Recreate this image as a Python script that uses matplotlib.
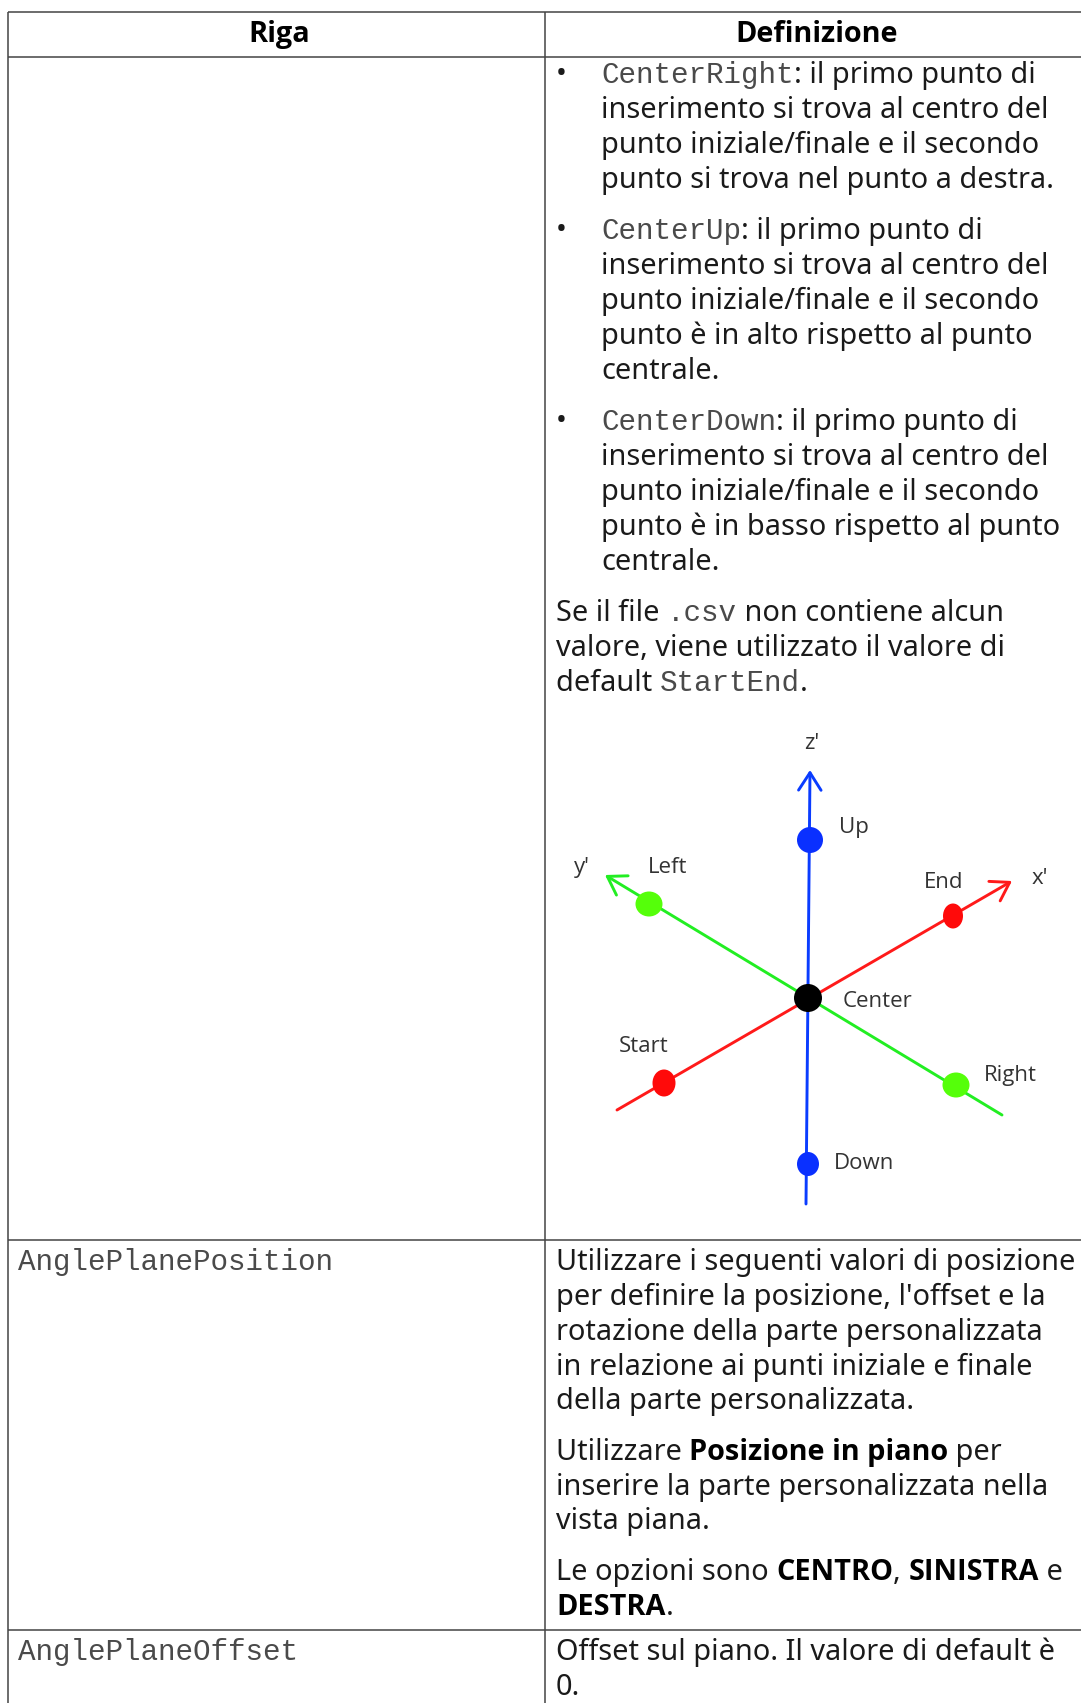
import matplotlib
matplotlib.use("Agg")
import matplotlib.pyplot as plt
from matplotlib.patches import Ellipse
from matplotlib import font_manager as fm

W, H = 1081, 1703
BODY_PT = 20.8
MONO_PT = 21.1
INK = "#1a1a1a"
MONO_INK = "#4a4a4a"

header_labels = ["Riga", "Definizione"]
left_labels = [("AnglePlanePosition", 1270), ("AnglePlaneOffset", 1660)]
bullet_rows = [82, 238, 429]
body_lines = [
    (83, 601, [("CenterRight", "m"), (": il primo punto di", "b")]),
    (118, 601, [("inserimento si trova al centro del", "b")]),
    (153, 601, [("punto iniziale/finale e il secondo", "b")]),
    (188, 601, [("punto si trova nel punto a destra.", "b")]),
    (239, 601, [("CenterUp", "m"), (": il primo punto di", "b")]),
    (274, 601, [("inserimento si trova al centro del", "b")]),
    (309, 601, [("punto iniziale/finale e il secondo", "b")]),
    (344, 601, [("punto è in alto rispetto al punto", "b")]),
    (379, 601, [("centrale.", "b")]),
    (430, 601, [("CenterDown", "m"), (": il primo punto di", "b")]),
    (465, 601, [("inserimento si trova al centro del", "b")]),
    (500, 601, [("punto iniziale/finale e il secondo", "b")]),
    (535, 601, [("punto è in basso rispetto al punto", "b")]),
    (570, 601, [("centrale.", "b")]),
    (621, 556, [("Se il file ", "b"), (".csv", "m"), (" non contiene alcun", "b")]),
    (656, 556, [("valore, viene utilizzato il valore di", "b")]),
    (691, 556, [("default ", "b"), ("StartEnd", "m"), (".", "b")]),
    (1270, 556, [("Utilizzare i seguenti valori di posizione", "b")]),
    (1305, 556, [("per definire la posizione, l'offset e la", "b")]),
    (1340, 556, [("rotazione della parte personalizzata", "b")]),
    (1375, 556, [("in relazione ai punti iniziale e finale", "b")]),
    (1409, 556, [("della parte personalizzata.", "b")]),
    (1460, 556, [("Utilizzare ", "b"), ("Posizione in piano", "B"), (" per", "b")]),
    (1495, 556, [("inserire la parte personalizzata nella", "b")]),
    (1529, 556, [("vista piana.", "b")]),
    (1580, 556, [("Le opzioni sono ", "b"), ("CENTRO", "B"), (", ", "b"), ("SINISTRA", "B"), (" e", "b")]),
    (1615, 556, [("DESTRA", "B"), (".", "b")]),
    (1660, 556, [("Offset sul piano. Il valore di default è", "b")]),
    (1695, 556, [("0.", "b")]),
]

axis_names = ["x", "y", "z"]
axis_colors = ["#ff1a1a", "#22ee22", "#0a3cff"]
axis_start = [(617, 1110), (1002, 1115), (806, 1204)]
axis_end = [(1012, 881), (605, 875), (810, 770)]
point_names = ["Start", "End", "Left", "Right", "Up", "Down", "Center"]
point_x = [664, 953, 649, 956, 810, 808, 808]
point_y = [1083, 916, 904, 1085, 840, 1164, 998]
point_w = [23, 20, 27, 27, 26, 22, 28]
point_h = [27, 25, 25, 25, 26, 24, 28]
point_colors = ["#ff0a0a", "#ff0a0a", "#55ff0a", "#55ff0a", "#0a30ff", "#0a30ff", "#000000"]
label_text = ["z'", "y'", "x'", "Up", "Left", "End", "Center", "Start", "Right", "Down"]
label_x = [812, 582, 1040, 854, 668, 944, 877, 644, 1010, 864]
label_y = [749, 873, 884, 833, 873, 888, 1007, 1052, 1081, 1169]

hline_y = [12, 57, 1240, 1630]
vline_x = [8, 545]

fig = plt.figure(figsize=(W / 100, H / 100), dpi=100, facecolor="white")
ax = fig.add_axes([0, 0, 1, 1])
ax.set_xlim(0, W)
ax.set_ylim(H, 0)
ax.axis("off")

# Use a real bold face when one is installed
bold_family = "Noto Sans"
for fam in ["Noto Sans", "Open Sans", "Noto Sans CJK SC"]:
    path = fm.findfont(fm.FontProperties(family=fam, weight="bold"), fallback_to_default=False)
    if fm.FontProperties(fname=path).get_name() == fam and "old" in path:
        bold_family = fam
        break

styles = {
    "b": dict(family="Noto Sans", fontsize=BODY_PT, color=INK),
    "B": dict(family=bold_family, fontsize=BODY_PT, color="#000000", fontweight="bold"),
    "m": dict(family="Liberation Mono", fontsize=MONO_PT, color=MONO_INK),
}
renderer = fig.canvas.get_renderer()


def run_width(s, style):
    probe = ax.text(0, 0, "|" + s + "|", **styles[style])
    bar = ax.text(0, 0, "||", **styles[style])
    w = probe.get_window_extent(renderer).width - bar.get_window_extent(renderer).width
    probe.remove()
    bar.remove()
    return w


for y in hline_y:
    ax.plot([vline_x[0], W], [y, y], color="#444444", lw=1.1, solid_capstyle="butt")
for x in vline_x:
    ax.plot([x, x], [hline_y[0], H], color="#444444", lw=1.1, solid_capstyle="butt")

ax.text(279, 42, header_labels[0], ha="center", va="baseline", **styles["B"])
ax.text(817, 42, header_labels[1], ha="center", va="baseline", **styles["B"])

for s, y in left_labels:
    ax.text(18, y, s, va="baseline", **styles["m"])
for y in bullet_rows:
    ax.text(561, y, "•", ha="center", va="baseline", family="Noto Sans", fontsize=BODY_PT, color=INK)

for y, x0, runs in body_lines:
    x = x0
    for s, st in runs:
        ax.text(x, y, s, va="baseline", **styles[st])
        x += run_width(s, st)

for name, c, a, b in zip(axis_names, axis_colors, axis_start, axis_end):
    ax.annotate("", xy=b, xytext=a, arrowprops=dict(arrowstyle="->,head_length=0.7,head_width=0.45", color=c, lw=2.1, shrinkA=0, shrinkB=0, mutation_scale=18))

for n, x, y, w, h, c in zip(point_names, point_x, point_y, point_w, point_h, point_colors):
    ax.add_patch(Ellipse((x, y), w, h, facecolor=c, edgecolor="none", zorder=5))
for s, x, y in zip(label_text, label_x, label_y):
    ax.text(x, y, s, ha="center", va="baseline", family="Open Sans", fontsize=16, color="#333333")

fig.savefig("out.png", dpi=100, facecolor="white")
